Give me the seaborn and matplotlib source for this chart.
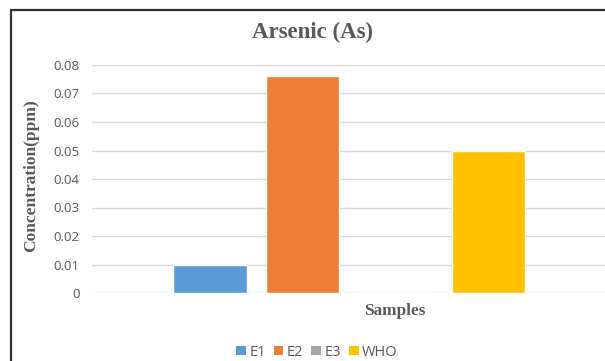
import matplotlib
matplotlib.use("Agg")
import matplotlib.pyplot as plt
import seaborn as sns
import pandas as pd
from matplotlib.patches import Patch
from matplotlib.lines import Line2D
from matplotlib.ticker import FuncFormatter, MultipleLocator

# Data
samples = ["E1", "E2", "E3", "WHO"]
concentration = [0.010, 0.076, 0.0, 0.050]
colors = ["#5B9BD5", "#ED7D31", "#A5A5A5", "#FFC000"]

df = pd.DataFrame({"sample": samples, "conc": concentration})

sns.set_style("white")
plt.rcParams["font.family"] = ["Open Sans", "DejaVu Sans"]
text_grey = "#595959"

fig = plt.figure(figsize=(6.05, 3.61), dpi=100)
W, H = 605, 361
ax = fig.add_axes([92 / W, 1 - 293 / H, (605 - 92) / W, (293 - 65) / H])

sns.barplot(data=df, x="sample", y="conc", hue="sample", palette=colors,
            width=0.79, legend=False, ax=ax, saturation=1)

ax.set_xlim(-1.272, 4.256)
ax.set_ylim(0, 0.08)
ax.yaxis.set_major_locator(MultipleLocator(0.01))
ax.yaxis.set_major_formatter(FuncFormatter(lambda v, p: "0" if abs(v) < 1e-9 else f"{v:.2f}"))
ax.grid(axis="y", color="#D9D9D9", linewidth=1)
ax.set_axisbelow(True)
for s in ax.spines.values():
    s.set_visible(False)
ax.set_xticks([])
ax.set_xlabel("")
ax.set_ylabel("")
ax.tick_params(axis="y", length=0, pad=9, labelsize=9.6, labelcolor=text_grey)

# Titles in serif bold
serif = ["Liberation Serif", "DejaVu Serif"]
fig.text(313 / W, 1 - 32 / H, "Arsenic (As)", ha="center", va="center",
         fontsize=16.5, fontweight="bold", family=serif, color=text_grey)
fig.text(395 / W, 1 - 311 / H, "Samples", ha="center", va="center",
         fontsize=12.4, fontweight="bold", family=serif, color=text_grey)
fig.text(31 / W, 1 - 176 / H, "Concentration(ppm)", ha="center", va="center",
         rotation=90, fontsize=12.5, fontweight="bold", family=serif, color=text_grey)

# Legend at the bottom
handles = [Patch(facecolor=c, edgecolor="none") for c in colors]
leg = fig.legend(handles, samples, loc="center", bbox_to_anchor=(317 / W, 1 - 352 / H),
                 ncol=4, frameon=False, fontsize=10.5, handlelength=0.65, handleheight=0.65,
                 handletextpad=0.25, columnspacing=0.55, borderpad=0)
for t in leg.get_texts():
    t.set_color(text_grey)

# Chart border (top and left edges visible)
fig.add_artist(Line2D([11 / W, 1], [1 - 10 / H, 1 - 10 / H], color="#333333", linewidth=1.6))
fig.add_artist(Line2D([11 / W, 11 / W], [0, 1 - 10 / H], color="#333333", linewidth=1.6))

fig.savefig("out.png", dpi=100)
